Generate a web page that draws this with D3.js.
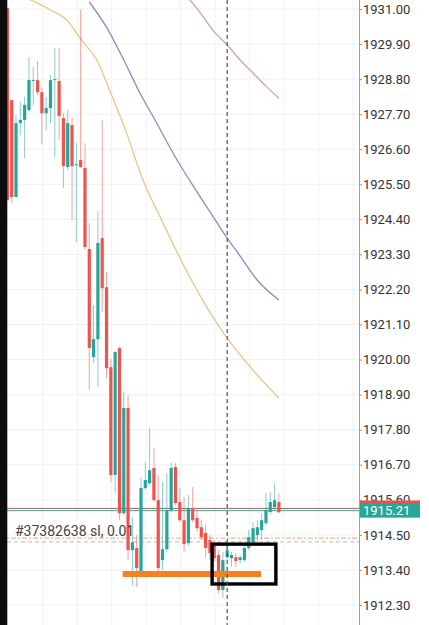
<!DOCTYPE html>
<html><head><meta charset="utf-8">
<script src="https://cdn.jsdelivr.net/npm/d3@7"></script>
<style>html,body{margin:0;padding:0;background:#fff;overflow:hidden}svg{display:block}</style>
</head><body><svg id="c" width="429" height="625"></svg>
<script>
const opens = [1931.03,1928.14,1925.10,1927.42,1927.52,1927.83,1928.74,1928.77,1928.39,1927.73,1927.89,1928.77,1928.74,1927.58,1926.04,1927.36,1926.10,1926.26,1926.01,1923.47,1920.08,1920.64,1923.81,1922.27,1919.76,1916.38,1920.36,1915.18,1918.48,1914.02,1914.09,1913.33,1915.97,1916.12,1916.60,1915.59,1913.71,1914.05,1915.28,1916.63,1915.53,1914.96,1914.24,1915.31,1915.03,1914.74,1914.56,1914.34,1914.18,1913.87,1912.77,1913.80,1913.77,1913.80,1913.71,1913.71,1914.09,1914.27,1914.49,1914.65,1914.87,1915.22,1915.37,1915.53];
const highs = [1931.03,1928.14,1927.67,1928.08,1928.24,1929.49,1929.18,1929.37,1928.52,1928.24,1928.93,1929.77,1929.77,1927.73,1927.83,1927.58,1926.79,1930.97,1926.79,1924.28,1921.71,1924.66,1927.52,1922.75,1920.02,1920.24,1920.42,1918.98,1918.89,1915.06,1914.49,1916.31,1916.78,1917.85,1917.22,1916.38,1916.16,1916.44,1916.78,1916.75,1915.97,1915.69,1915.75,1916.00,1915.28,1914.96,1914.81,1914.49,1914.34,1914.02,1913.96,1914.18,1913.96,1913.93,1913.87,1914.18,1914.65,1914.90,1914.96,1915.18,1915.81,1915.84,1916.12,1915.81];
const lows = [1925.00,1924.91,1925.10,1927.04,1926.32,1927.77,1927.99,1928.30,1926.76,1927.20,1927.42,1926.35,1926.89,1925.38,1925.95,1924.38,1923.69,1926.01,1923.44,1919.04,1919.89,1919.14,1921.49,1919.42,1916.16,1915.81,1914.96,1915.12,1913.71,1912.92,1912.86,1913.24,1915.91,1916.06,1915.53,1913.33,1913.40,1913.96,1915.22,1915.43,1914.90,1913.96,1914.15,1914.90,1914.59,1914.34,1913.80,1913.71,1913.65,1912.67,1912.52,1913.71,1913.52,1913.49,1913.61,1913.65,1914.02,1914.18,1914.27,1914.34,1914.81,1915.15,1915.28,1915.18];
const closes = [1925.00,1925.10,1927.42,1927.52,1927.99,1928.77,1928.77,1928.39,1927.73,1927.89,1928.77,1928.80,1927.64,1926.07,1927.42,1926.07,1926.13,1926.04,1923.53,1920.36,1920.64,1923.66,1922.24,1919.73,1916.38,1920.24,1915.18,1918.48,1914.02,1914.27,1913.46,1915.97,1916.22,1916.53,1915.59,1913.46,1914.05,1915.28,1916.60,1915.50,1914.96,1914.21,1915.34,1914.96,1914.71,1914.43,1914.09,1913.93,1913.77,1912.77,1913.71,1914.02,1913.87,1913.68,1913.80,1914.09,1914.43,1914.71,1914.74,1914.96,1915.28,1915.53,1915.59,1915.21];

const tickValues = [1931.00,1929.90,1928.80,1927.70,1926.60,1925.50,1924.40,1923.30,1922.20,1921.10,1920.00,1918.90,1917.80,1916.70,1915.60,1914.50,1913.40,1912.30];

// moving averages sampled at candle indices
const maFastIdx = [5,10,14,17,21,24,28,31,36,41,46,51,57,63];
const maFastVal = [1931.31,1930.97,1930.62,1930.06,1929.33,1928.36,1926.98,1925.79,1924.32,1922.93,1921.71,1920.67,1919.67,1918.79];
const maMidIdx = [19,23,27,31,34,39,44,49,51,54,58,63];
const maMidVal = [1931.22,1930.43,1929.40,1928.30,1927.58,1926.35,1925.26,1924.22,1923.81,1923.25,1922.49,1921.87];
const maSlowIdx = [42,45,48,51,54,57,60,63];
const maSlowVal = [1931.34,1930.84,1930.28,1929.87,1929.40,1928.99,1928.58,1928.20];

const askPrice = 1915.33, bidPrice = 1915.26, lastLabel = "1915.21";
const orderText = "#37382638 sl, 0.01";
const orderPrices = [1914.40, 1914.28];
const levelPrice = 1913.27, levelFrom = 26.75, levelTo = 58.85;
const boxFrom = 47.5, boxTo = 62.3, boxHigh = 1914.21, boxLow = 1912.96;
const cursorIdx = 51;
const timeGridIdx = [8.2,16.2,24.2,32.2,40.2,48.2,56.2,64.2,72.2,80.2];

const svg = d3.select("#c");
const W = 429, H = 625, axisX = 359;
const x = d3.scaleLinear().domain([0, 63]).range([7.4, 278.9]);
const y = d3.scaleLinear().domain([1912.30, 1931.00]).range([605, 9]);
const UP = "#26a69a", DOWN = "#ef5350";

// grid
svg.append("g").selectAll("line").data(tickValues).join("line")
  .attr("x1", 0).attr("x2", axisX).attr("y1", d => y(d)).attr("y2", d => y(d))
  .attr("stroke", "#f1f1f1").attr("stroke-width", 1);
svg.append("g").selectAll("line").data(timeGridIdx).join("line")
  .attr("x1", d => x(d)).attr("x2", d => x(d)).attr("y1", 0).attr("y2", H)
  .attr("stroke", "#f1f1f1").attr("stroke-width", 1);

// moving averages
const line = d3.line().x(d => x(d[0])).y(d => y(d[1])).curve(d3.curveMonotoneX);
const mas = [
  {idx: maSlowIdx, val: maSlowVal, color: "#d9a29c"},
  {idx: maMidIdx, val: maMidVal, color: "#9a84c6"},
  {idx: maFastIdx, val: maFastVal, color: "#ecc486"}
];
mas.forEach(m => {
  svg.append("path").datum(m.idx.map((d, i) => [d, m.val[i]]))
    .attr("d", line).attr("fill", "none").attr("stroke", m.color).attr("stroke-width", 1.3);
});

// bid / ask lines
svg.append("line").attr("x1", 0).attr("x2", axisX).attr("y1", y(askPrice)).attr("y2", y(askPrice))
  .attr("stroke", "#b0605c").attr("stroke-width", 1);
svg.append("line").attr("x1", 0).attr("x2", axisX).attr("y1", y(bidPrice)).attr("y2", y(bidPrice))
  .attr("stroke", "#3aa79c").attr("stroke-width", 1);

// order lines
svg.append("line").attr("x1", 0).attr("x2", axisX).attr("y1", y(orderPrices[0])).attr("y2", y(orderPrices[0]))
  .attr("stroke", "#f0a07a").attr("stroke-width", 1).attr("stroke-dasharray", "5,2,2,2");
svg.append("line").attr("x1", 0).attr("x2", axisX).attr("y1", y(orderPrices[1])).attr("y2", y(orderPrices[1]))
  .attr("stroke", "#b8b8b8").attr("stroke-width", 1).attr("stroke-dasharray", "4,3");

// candles
const data = opens.map((o, i) => ({i, o, h: highs[i], l: lows[i], c: closes[i]}));
const g = svg.append("g");
g.selectAll("line.w").data(data).join("line").attr("class", "w")
  .attr("x1", d => x(d.i)).attr("x2", d => x(d.i))
  .attr("y1", d => y(d.h)).attr("y2", d => y(d.l))
  .attr("stroke", d => d.c >= d.o ? UP : DOWN).attr("stroke-opacity", 0.55).attr("stroke-width", 1);
const bw = 3.2;
g.selectAll("rect").data(data).join("rect")
  .attr("x", d => x(d.i) - bw / 2).attr("width", bw)
  .attr("y", d => y(Math.max(d.o, d.c)))
  .attr("height", d => Math.max(1, Math.abs(y(d.o) - y(d.c))))
  .attr("fill", d => d.c >= d.o ? UP : DOWN);

// order text
svg.append("text").attr("x", 15).attr("y", y(orderPrices[0]) - 2)
  .attr("font-family", "Roboto, 'Noto Sans', sans-serif").attr("font-size", 14)
  .attr("fill", "#444").text(orderText);

// level line
svg.append("line").attr("x1", x(levelFrom)).attr("x2", x(levelTo))
  .attr("y1", y(levelPrice)).attr("y2", y(levelPrice))
  .attr("stroke", "#f5821f").attr("stroke-width", 6);

// rectangle
svg.append("rect").attr("x", x(boxFrom)).attr("y", y(boxHigh))
  .attr("width", x(boxTo) - x(boxFrom)).attr("height", y(boxLow) - y(boxHigh))
  .attr("fill", "none").attr("stroke", "#000").attr("stroke-width", 3.4);

// crosshair vertical
svg.append("line").attr("x1", x(cursorIdx)).attr("x2", x(cursorIdx)).attr("y1", 0).attr("y2", H)
  .attr("stroke", "#555").attr("stroke-width", 1.2).attr("stroke-dasharray", "4,3");

// white axis area
svg.append("rect").attr("x", axisX).attr("y", 0).attr("width", W - axisX).attr("height", H).attr("fill", "#fff");

// axis
const axis = d3.axisRight(y).tickValues(tickValues).tickSize(3).tickPadding(1)
  .tickFormat(d3.format(".2f"));
const ag = svg.append("g").attr("transform", `translate(${axisX},0)`).call(axis);
ag.select(".domain").remove();
ag.selectAll(".tick line").attr("stroke", "#999");
ag.selectAll(".tick text").attr("font-family", "Roboto, 'Noto Sans', sans-serif")
  .attr("font-size", 13).attr("fill", "#333");
svg.append("line").attr("x1", axisX + 0.5).attr("x2", axisX + 0.5).attr("y1", 0).attr("y2", H)
  .attr("stroke", "#a0a0a0").attr("stroke-width", 1);

// price labels
svg.append("rect").attr("x", axisX + 1).attr("y", y(askPrice) - 8).attr("width", 60).attr("height", 14)
  .attr("fill", "#e5534b");
svg.append("rect").attr("x", axisX + 1).attr("y", y(bidPrice) - 7).attr("width", 60).attr("height", 14)
  .attr("fill", "#26a69a");
svg.append("text").attr("x", axisX + 4).attr("y", y(bidPrice) + 4.5)
  .attr("font-family", "Roboto, 'Noto Sans', sans-serif").attr("font-size", 13)
  .attr("fill", "#fff").text(lastLabel);

// left black bar
svg.append("rect").attr("x", 0).attr("y", 0).attr("width", 7.3).attr("height", H).attr("fill", "#0c0c0c");
</script></body></html>
